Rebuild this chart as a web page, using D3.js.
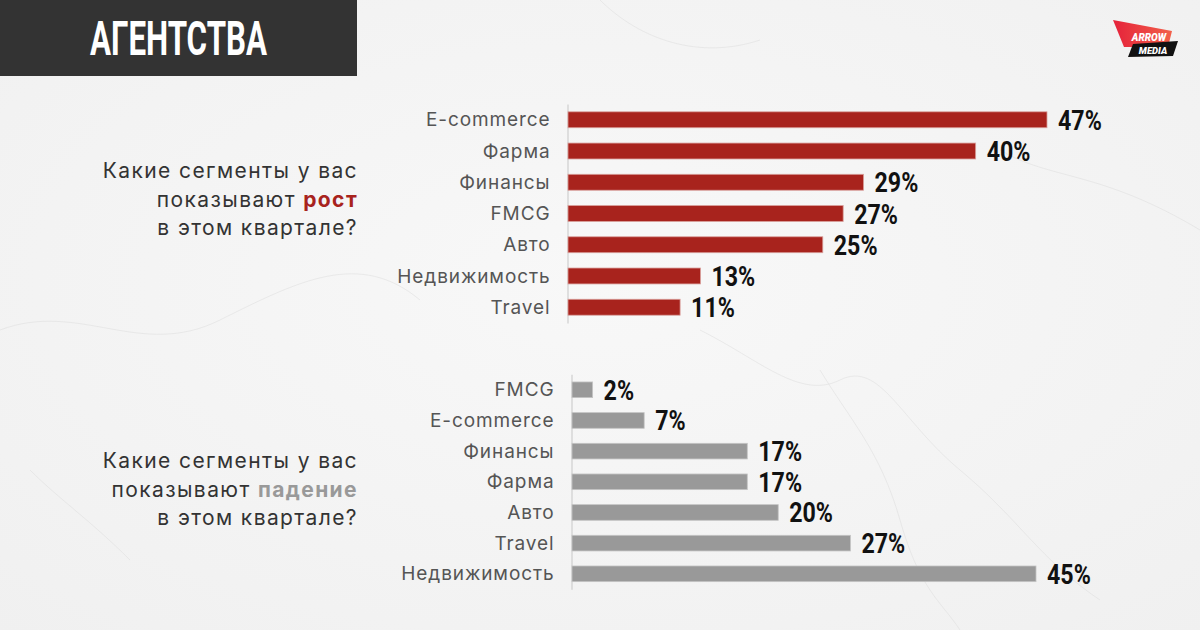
<!DOCTYPE html>
<html>
<head>
<meta charset="utf-8">
<script src="https://cdn.jsdelivr.net/npm/d3@7"></script>
<style>
  html, body { margin: 0; padding: 0; }
  body { width: 1200px; height: 630px; overflow: hidden; background: #f5f5f5; }
</style>
</head>
<body>
<svg id="chart" width="1200" height="630"></svg>
<script>
// ---- data ----
const growthCategories = ["E-commerce", "Фарма", "Финансы", "FMCG", "Авто", "Недвижимость", "Travel"];
const growthValues = [47, 40, 29, 27, 25, 13, 11];
const declineCategories = ["FMCG", "E-commerce", "Финансы", "Фарма", "Авто", "Travel", "Недвижимость"];
const declineValues = [2, 7, 17, 17, 20, 27, 45];
const titleText = "АГЕНТСТВА";
const growthQuestion = ["Какие сегменты у вас", ["показывают ", "рост"], "в этом квартале?"];
const declineQuestion = ["Какие сегменты у вас", ["показывают ", "падение"], "в этом квартале?"];

const svg = d3.select("#chart");
const defs = svg.append("defs");

// background marble-ish
const bg = defs.append("radialGradient").attr("id", "bg").attr("cx", "50%").attr("cy", "45%").attr("r", "75%");
bg.append("stop").attr("offset", "0%").attr("stop-color", "#f8f8f8");
bg.append("stop").attr("offset", "100%").attr("stop-color", "#f0f0f0");
svg.append("rect").attr("width", 1200).attr("height", 630).attr("fill", "url(#bg)");
// faint veins (decorative)
const veins = [
  "M0,330 C80,300 140,360 220,320 S360,250 420,300",
  "M700,330 C760,360 800,400 840,380 S900,420 960,470 S1040,560 1100,600",
  "M820,370 C850,420 880,450 900,520 S940,600 960,630",
  "M1000,150 C1050,180 1100,170 1200,230",
  "M30,470 C60,500 90,520 130,560",
  "M600,0 C640,40 700,60 760,40"
];
svg.append("g").selectAll("path").data(veins).enter().append("path")
  .attr("d", d => d).attr("fill", "none").attr("stroke", "#dcdcdc").attr("stroke-width", 1).attr("opacity", 0.5);

// title box
svg.append("rect").attr("x", 0).attr("y", 0).attr("width", 357).attr("height", 76).attr("fill", "#333333");
svg.append("text").text(titleText)
  .attr("x", 90).attr("y", 55)
  .attr("textLength", 177).attr("lengthAdjust", "spacingAndGlyphs")
  .attr("font-family", "Roboto").attr("font-weight", 700).attr("font-size", 49)
  .attr("fill", "#ffffff");

// logo
const lg = defs.append("linearGradient").attr("id", "logoRed").attr("x1", "0%").attr("x2", "100%").attr("y1", "0%").attr("y2", "0%");
lg.append("stop").attr("offset", "0%").attr("stop-color", "#e5223a");
lg.append("stop").attr("offset", "100%").attr("stop-color", "#f2604a");
const logo = svg.append("g");
logo.append("path").attr("d", "M1113,20 L1172,31 L1168,47 L1124,47 Z").attr("fill", "url(#logoRed)");
logo.append("path").attr("d", "M1133,44 L1178,41 L1173,56 L1128,57 Z").attr("fill", "#111111");
logo.append("text").text("ARROW").attr("x", 1149).attr("y", 41).attr("text-anchor", "middle")
  .attr("font-family", "Roboto").attr("font-weight", 900).attr("font-style", "italic").attr("font-size", 10).attr("fill", "#fff");
logo.append("text").text("MEDIA").attr("x", 1153).attr("y", 54).attr("text-anchor", "middle")
  .attr("font-family", "Roboto").attr("font-weight", 900).attr("font-style", "italic").attr("font-size", 9.5).attr("fill", "#fff");

function drawChart(cfg) {
  const x = d3.scaleLinear().domain([0, cfg.maxVal]).range([cfg.x0, cfg.x1]);
  const y = d3.scaleBand().domain(cfg.categories).range([cfg.y0, cfg.y1]).paddingInner(0.49).paddingOuter(0.25);
  const g = svg.append("g");

  const axis = d3.axisLeft(y).tickSize(0).tickPadding(17);
  const ag = g.append("g").attr("transform", `translate(${cfg.x0 - 0.5},0)`).call(axis);
  ag.select(".domain").attr("stroke", "#cfcfcf").attr("stroke-width", 1.2);
  ag.selectAll("text")
    .attr("font-family", "Inter").attr("font-size", 19).attr("fill", "#555555")
    .attr("letter-spacing", 0.9)
    .attr("dy", "0.35em");

  const data = cfg.categories.map((c, i) => ({ c, v: cfg.values[i] }));
  g.selectAll("rect.bar").data(data).enter().append("rect")
    .attr("class", "bar")
    .attr("x", x(0)).attr("y", d => y(d.c))
    .attr("width", d => x(d.v) - x(0)).attr("height", y.bandwidth())
    .attr("fill", cfg.color)
    .attr("stroke", cfg.edge).attr("stroke-width", 0.8);

  g.selectAll("text.val").data(data).enter().append("text")
    .attr("class", "val")
    .attr("transform", d => `translate(${x(d.v) + 11},${y(d.c) + y.bandwidth() / 2 + 10}) scale(0.86,1)`)
    .text(d => d.v + "%")
    .attr("font-family", "Roboto").attr("font-weight", 700).attr("font-size", 27)
    .attr("fill", "#111111");

  // question text
  const q = g.append("text").attr("text-anchor", "end")
    .attr("font-family", "Inter").attr("font-size", 21).attr("fill", "#333333")
    .attr("letter-spacing", 1.4);
  cfg.question.forEach((line, i) => {
    const t = q.append("tspan").attr("x", 358).attr("y", cfg.qy + i * 28.5);
    if (Array.isArray(line)) {
      t.text(line[0]);
      q.append("tspan").text(line[1]).attr("font-weight", 700).attr("fill", cfg.color);
    } else {
      t.text(line);
    }
  });
}

drawChart({
  categories: growthCategories, values: growthValues, maxVal: 47,
  x0: 568, x1: 1047, y0: 104, y1: 323,
  color: "#a8231d", edge: "#d9a09c",
  question: growthQuestion, qy: 178
});
drawChart({
  categories: declineCategories, values: declineValues, maxVal: 45,
  x0: 572, x1: 1036, y0: 374.3, y1: 589.3,
  color: "#999999", edge: "#c4c4c4",
  question: declineQuestion, qy: 468
});
</script>
</body>
</html>
